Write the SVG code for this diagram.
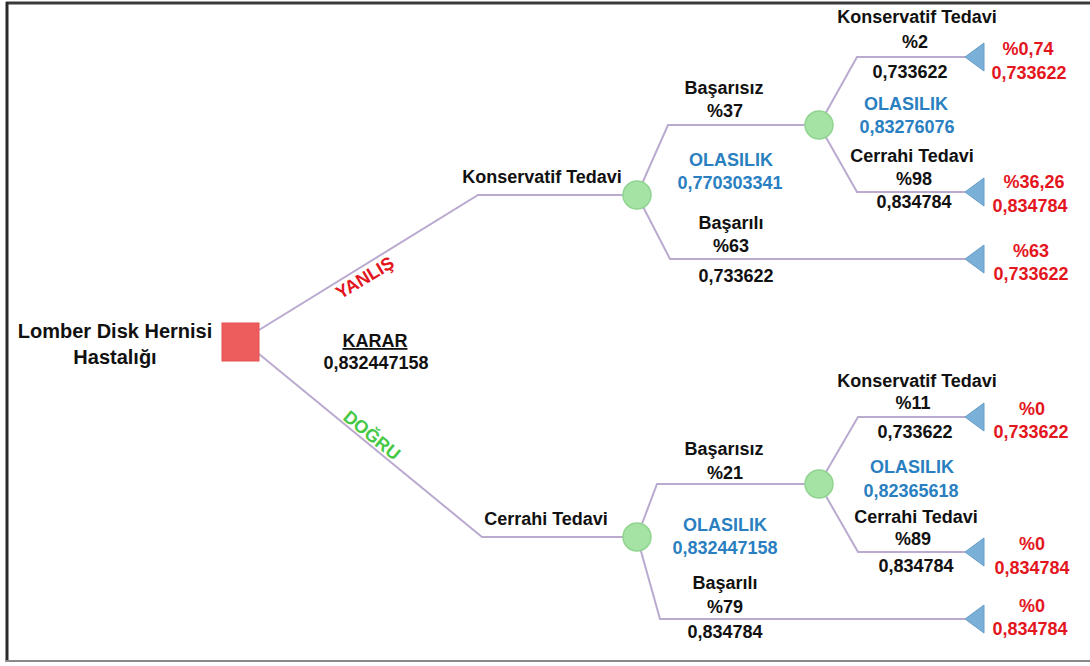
<svg xmlns="http://www.w3.org/2000/svg" width="1090" height="666" viewBox="0 0 1090 666">
<defs>
<style>
text{font-family:"Liberation Sans",Arial,sans-serif;font-weight:bold;font-size:18px;text-anchor:middle}
.k{fill:#111}
.b{fill:#2a7fc1}
.r{fill:#e3161e}
.g{fill:#44c844}
.root{font-size:20px}
.ln{fill:none;stroke:#baaad0;stroke-width:2}
.ch{fill:#a5e3a5;stroke:#90d490;stroke-width:1.5}
.tr{fill:#7ab0d8;stroke:#679dc6;stroke-width:1}
</style>
</defs>
<rect x="0" y="0" width="1090" height="666" fill="#fff"/>
<g id="frame">
<line x1="6" y1="3" x2="1090" y2="3" stroke="#3a3a3a" stroke-width="3"/>
<line x1="7" y1="2" x2="7" y2="662" stroke="#2a2a2a" stroke-width="3"/>
<line x1="6" y1="661" x2="1090" y2="661" stroke="#8a8a8a" stroke-width="2"/>
</g>
<g id="connectors">
<path class="ln" d="M259,330 L478,195 L637,195"/>
<path class="ln" d="M259,354 L482,537 L637,537"/>
<path class="ln" d="M637,195 L668,125 L819,125"/>
<path class="ln" d="M637,195 L670,259 L965,259"/>
<path class="ln" d="M819,125 L857,57 L965,57"/>
<path class="ln" d="M819,125 L857,192 L965,192"/>
<path class="ln" d="M637,537 L657,484 L819,484"/>
<path class="ln" d="M637,537 L660,619 L965,619"/>
<path class="ln" d="M819,484 L858,417 L965,417"/>
<path class="ln" d="M819,484 L858,552 L965,552"/>
</g>
<g id="root">
<rect x="222" y="323" width="37" height="38" fill="#ee5d5d" stroke="#e55050" stroke-width="1"/>
<text class="k root" x="115" y="338">Lomber Disk Hernisi</text>
<text class="k root" x="115" y="364">Hastalığı</text>
<text class="k" x="375" y="347" text-decoration="underline">KARAR</text>
<text class="k" x="376" y="369">0,832447158</text>
<text class="r" x="0" y="0" transform="translate(368,283) rotate(-31)">YANLIŞ</text>
<text class="g" x="0" y="0" transform="translate(368,440) rotate(39)">DOĞRU</text>
</g>
<g id="chance-konservatif">
<circle class="ch" cx="637" cy="195" r="14"/>
<text class="k" x="542" y="183">Konservatif Tedavi</text>
<text class="k" x="724" y="94">Başarısız</text>
<text class="k" x="725" y="117">%37</text>
<text class="b" x="731" y="166">OLASILIK</text>
<text class="b" x="730" y="189">0,770303341</text>
<text class="k" x="731" y="229">Başarılı</text>
<text class="k" x="731" y="252">%63</text>
<text class="k" x="736" y="282">0,733622</text>
</g>
<g id="chance-k-basarisiz">
<circle class="ch" cx="819" cy="125" r="14"/>
<text class="k" x="917" y="23">Konservatif Tedavi</text>
<text class="k" x="915" y="48">%2</text>
<text class="k" x="910" y="78">0,733622</text>
<text class="b" x="906" y="110">OLASILIK</text>
<text class="b" x="907" y="133">0,83276076</text>
<text class="k" x="912" y="162">Cerrahi Tedavi</text>
<text class="k" x="914" y="185">%98</text>
<text class="k" x="914" y="208">0,834784</text>
</g>
<g id="end-1">
<polygon class="tr" points="965,57 984,43 984,71"/>
<text class="r" x="1028" y="55">%0,74</text>
<text class="r" x="1029" y="79">0,733622</text>
</g>
<g id="end-2">
<polygon class="tr" points="965,192 984,178 984,206"/>
<text class="r" x="1034" y="188">%36,26</text>
<text class="r" x="1030" y="212">0,834784</text>
</g>
<g id="end-3">
<polygon class="tr" points="965,259 984,245 984,273"/>
<text class="r" x="1031" y="257">%63</text>
<text class="r" x="1031" y="280">0,733622</text>
</g>
<g id="chance-cerrahi">
<circle class="ch" cx="637" cy="537" r="14"/>
<text class="k" x="546" y="525">Cerrahi Tedavi</text>
<text class="k" x="724" y="455">Başarısız</text>
<text class="k" x="725" y="479">%21</text>
<text class="b" x="725" y="531">OLASILIK</text>
<text class="b" x="725" y="554">0,832447158</text>
<text class="k" x="725" y="589">Başarılı</text>
<text class="k" x="725" y="613">%79</text>
<text class="k" x="725" y="638">0,834784</text>
</g>
<g id="chance-c-basarisiz">
<circle class="ch" cx="819" cy="484" r="14"/>
<text class="k" x="917" y="387">Konservatif Tedavi</text>
<text class="k" x="913" y="409">%11</text>
<text class="k" x="915" y="438">0,733622</text>
<text class="b" x="912" y="473">OLASILIK</text>
<text class="b" x="911" y="497">0,82365618</text>
<text class="k" x="916" y="523">Cerrahi Tedavi</text>
<text class="k" x="913" y="545">%89</text>
<text class="k" x="916" y="572">0,834784</text>
</g>
<g id="end-4">
<polygon class="tr" points="965,417 984,403 984,431"/>
<text class="r" x="1032" y="415">%0</text>
<text class="r" x="1031" y="438">0,733622</text>
</g>
<g id="end-5">
<polygon class="tr" points="965,552 984,538 984,566"/>
<text class="r" x="1032" y="550">%0</text>
<text class="r" x="1032" y="574">0,834784</text>
</g>
<g id="end-6">
<polygon class="tr" points="965,619 984,605 984,633"/>
<text class="r" x="1032" y="612">%0</text>
<text class="r" x="1030" y="635">0,834784</text>
</g>
</svg>
